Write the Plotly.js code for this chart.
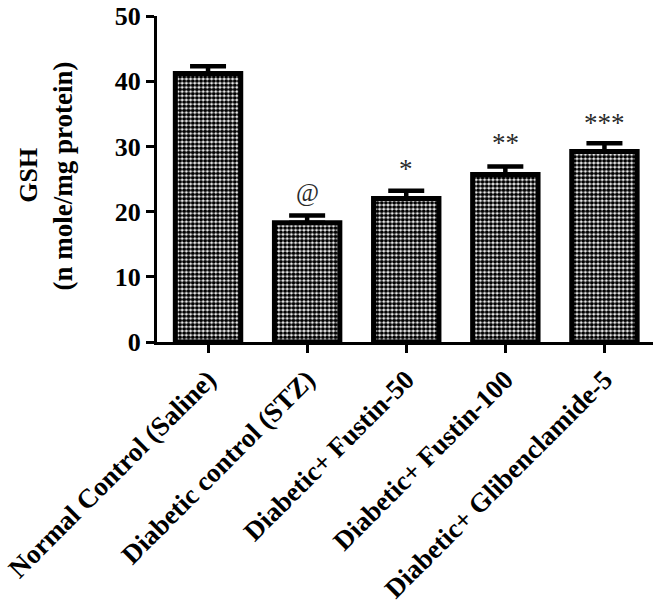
<!DOCTYPE html>
<html>
<head>
<meta charset="utf-8">
<script src="https://cdn.plot.ly/plotly-3.0.1.min.js"></script>
<style>html,body{margin:0;padding:0;background:#fff;}#chart{width:669px;height:613px;}</style>
</head>
<body>
<div id="chart"></div>
<script>
// ---- data ----
var categories = ["Normal Control (Saline)", "Diabetic control (STZ)", "Diabetic+ Fustin-50", "Diabetic+ Fustin-100", "Diabetic+ Glibenclamide-5"];
var gshMean = [41.2, 18.3, 22.0, 25.7, 29.2];
var gshSem = [1.1, 1.1, 1.2, 1.2, 1.3];
var sigMarks = ["", "@", "*", "**", "***"];
var sigY = [0, 22.8, 26.6, 30.5, 33.6];
var yTicks = [0, 10, 20, 30, 40, 50];

var serif = "'Liberation Serif', 'Times New Roman', serif";

var trace = {
  type: "bar",
  x: categories,
  y: gshMean,
  width: 0.66,
  marker: {
    color: "white",
    line: {color: "black", width: 5},
    pattern: {shape: ".", size: 4.2, solidity: 0.7, fgcolor: "black", bgcolor: "white", fillmode: "replace"}
  },
  error_y: {type: "data", symmetric: false, array: gshSem, arrayminus: gshSem.map(function(){return 0;}), color: "black", thickness: 4.5, width: 18},
  hoverinfo: "none"
};

var annotations = [];
for (var i = 0; i < categories.length; i++) {
  if (!sigMarks[i]) continue;
  var isAt = sigMarks[i] === "@";
  annotations.push({
    x: categories[i], y: sigY[i], xref: "x", yref: "y",
    text: sigMarks[i], showarrow: false,
    font: {family: serif, size: isAt ? 25 : 27, color: "#2a2a2a"},
    xanchor: "center", yanchor: "middle"
  });
}
annotations.push({
  xref: "paper", yref: "paper", x: -0.258, y: 0.51, xanchor: "center", yanchor: "middle",
  text: "GSH", textangle: -90, showarrow: false,
  font: {family: serif, size: 26, color: "black", weight: "bold"}
});
annotations.push({
  xref: "paper", yref: "paper", x: -0.19, y: 0.51, xanchor: "center", yanchor: "middle",
  text: "(n mole/mg protein)", textangle: -90, showarrow: false,
  font: {family: serif, size: 27, color: "black", weight: "bold"}
});

var layout = {
  width: 669, height: 613,
  margin: {l: 157, r: 16, t: 16, b: 271},
  paper_bgcolor: "white", plot_bgcolor: "white",
  showlegend: false,
  font: {family: serif, color: "black"},
  xaxis: {
    range: [-0.515, 4.49],
    showline: true, linecolor: "black", linewidth: 3,
    ticks: "outside", ticklen: 8, tickwidth: 3, tickcolor: "black",
    tickangle: -45,
    tickfont: {family: serif, size: 27, color: "black", weight: "bold"},
    showgrid: false, zeroline: false, fixedrange: true
  },
  yaxis: {
    range: [0, 50],
    tickvals: yTicks, ticktext: yTicks.map(String),
    showline: true, linecolor: "black", linewidth: 3,
    ticks: "outside", ticklen: 8, tickwidth: 3, tickcolor: "black",
    tickfont: {family: serif, size: 26, color: "black", weight: "bold"},
    showgrid: false, zeroline: false, fixedrange: true
  },
  annotations: annotations
};

Plotly.newPlot("chart", [trace], layout, {staticPlot: true, displayModeBar: false});
</script>
</body>
</html>
